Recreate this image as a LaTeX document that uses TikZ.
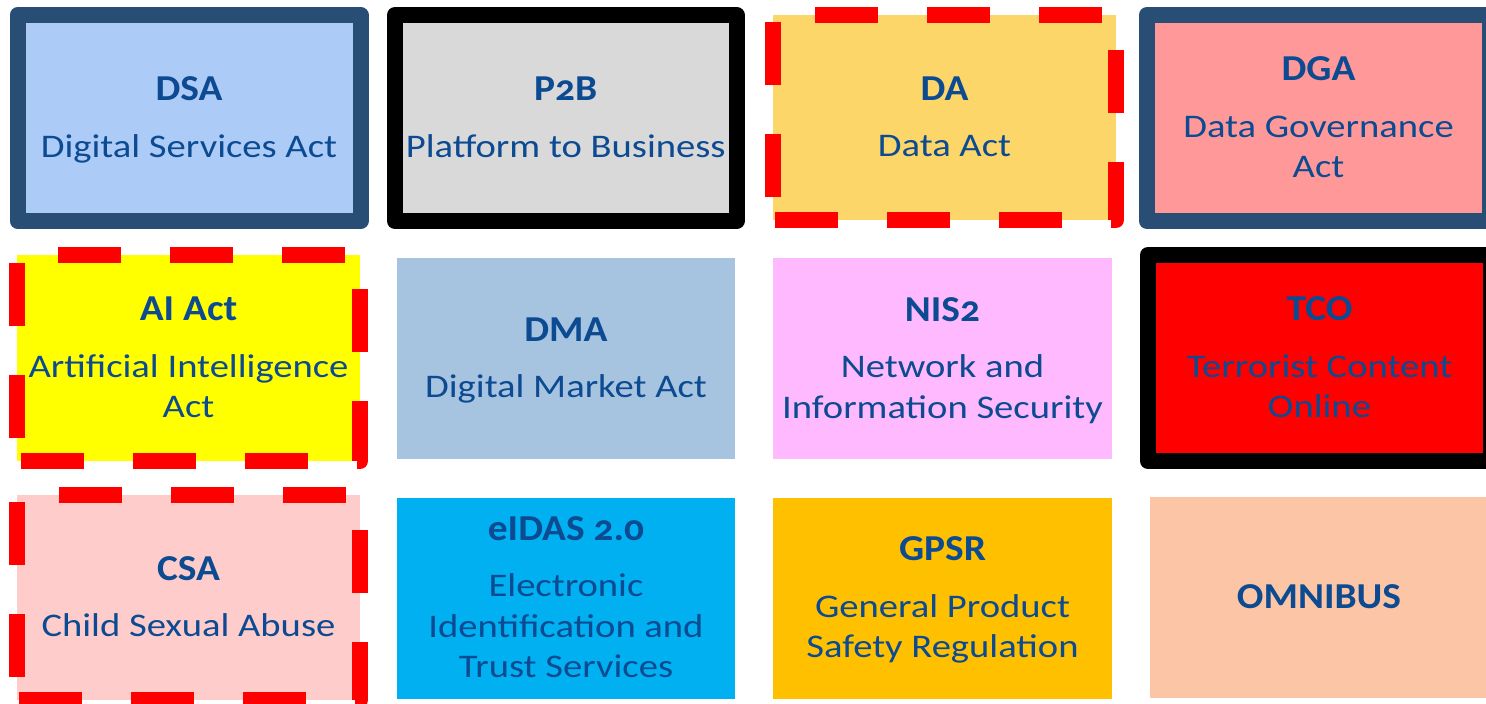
\documentclass[tikz,border=0pt]{standalone}
\usepackage{fontspec}
\setmainfont{Carlito}[Numbers=OldStyle, FakeStretch=1.17]
\newfontfamily\titlefont{Carlito}[Numbers=OldStyle, FakeStretch=1.08,
  UprightFont=*-Bold]
\usetikzlibrary{calc}
\definecolor{tblue}{RGB}{12,74,145}
\definecolor{navyb}{RGB}{40,78,117}
\definecolor{cDSA}{RGB}{173,203,247}
\definecolor{cPtwoB}{RGB}{217,217,217}
\definecolor{cDA}{RGB}{252,214,104}
\definecolor{cDGA}{RGB}{255,153,153}
\definecolor{cAI}{RGB}{255,255,0}
\definecolor{cDMA}{RGB}{166,195,224}
\definecolor{cNIS}{RGB}{255,185,255}
\definecolor{cTCO}{RGB}{255,0,0}
\definecolor{cCSA}{RGB}{255,204,204}
\definecolor{cEID}{RGB}{0,176,240}
\definecolor{cGPSR}{RGB}{255,192,0}
\definecolor{cOMNI}{RGB}{252,198,166}
\definecolor{dashred}{RGB}{255,0,0}
\newcommand{\ttl}[1]{\rule{0pt}{30pt}{\fontsize{36.5}{40.5}\selectfont\titlefont #1}}
\newcommand{\dep}{\rule[-8pt]{0pt}{8pt}}
\begin{document}
\begin{tikzpicture}[x=1pt,y=-1pt,
  boxbase/.style={rectangle, inner sep=0pt, outer sep=0pt, align=center,
    text=tblue, font=\fontsize{33}{40.5}\selectfont},
  bordered/.style={boxbase, minimum width=343pt, minimum height=206pt,
    line width=16pt, line join=round, draw=#1},
  dashedbox/.style={boxbase, minimum width=343pt, minimum height=206pt},
  plainbox/.style={boxbase, minimum width=338pt, minimum height=201pt},
  reddash/.style={draw=dashred, line width=16pt, line join=round,
    dash pattern=on 63pt off 49pt}
]
\useasboundingbox (0,0) rectangle (1486,704);
\fill[white] (0,0) rectangle (1486,704);

% Row 1
\node[bordered=navyb, fill=cDSA] (dsa) at (189,118)
  {\ttl{DSA}\\[16pt]Digital Services Act\dep};
\node[bordered=black, fill=cPtwoB, minimum width=341.5pt] (p2b) at (565.75,118)
  {\ttl{P2B}\\[16pt]Platform to Business\dep};
\node[dashedbox, fill=cDA, minimum height=205pt] (da) at (944.5,117.5)
  {\ttl{DA}\\[16pt]Data Act\dep};
\node[bordered=navyb, fill=cDGA] (dga) at (1318.5,118)
  {\ttl{DGA}\\[16pt]Data Governance\\Act\dep};

% Row 2
\node[dashedbox, fill=cAI] (ai) at (188.5,358)
  {\ttl{AI Act}\\[16pt]Artificial Intelligence\\Act\dep};
\node[plainbox, fill=cDMA] (dma) at (566,358.5)
  {\ttl{DMA}\\[16pt]Digital Market Act\dep};
\node[plainbox, fill=cNIS, minimum width=339pt] (nis) at (942.5,358.5)
  {\ttl{NIS2}\\[16pt]Network and\\Information Security\dep};
\node[bordered=black, fill=cTCO] (tco) at (1319.5,358)
  {\ttl{TCO}\\[16pt]Terrorist Content\\Online\dep};

% Row 3
\node[dashedbox, fill=cCSA, minimum height=205pt] (csa) at (188.5,597.5)
  {\ttl{CSA}\\[16pt]Child Sexual Abuse\dep};
\node[plainbox, fill=cEID] (eid) at (566,598)
  {\ttl{eIDAS 2.0}\\[16pt]Electronic\\Identification and\\Trust Services\dep};
\node[plainbox, fill=cGPSR, minimum width=339pt] (gpsr) at (942.5,598)
  {\ttl{GPSR}\\[16pt]General Product\\Safety Regulation\dep};
\node[plainbox, fill=cOMNI] (omni) at (1319,597.5)
  {\ttl{OMNIBUS}\dep};

% dashed red borders
\foreach \n in {da,ai,csa}{
  \draw[reddash] ($(\n.south west)+(0,-23)$) -- (\n.north west) -- (\n.north east)
    -- (\n.south east) -- (\n.south west) -- cycle;
}
\end{tikzpicture}
\end{document}
